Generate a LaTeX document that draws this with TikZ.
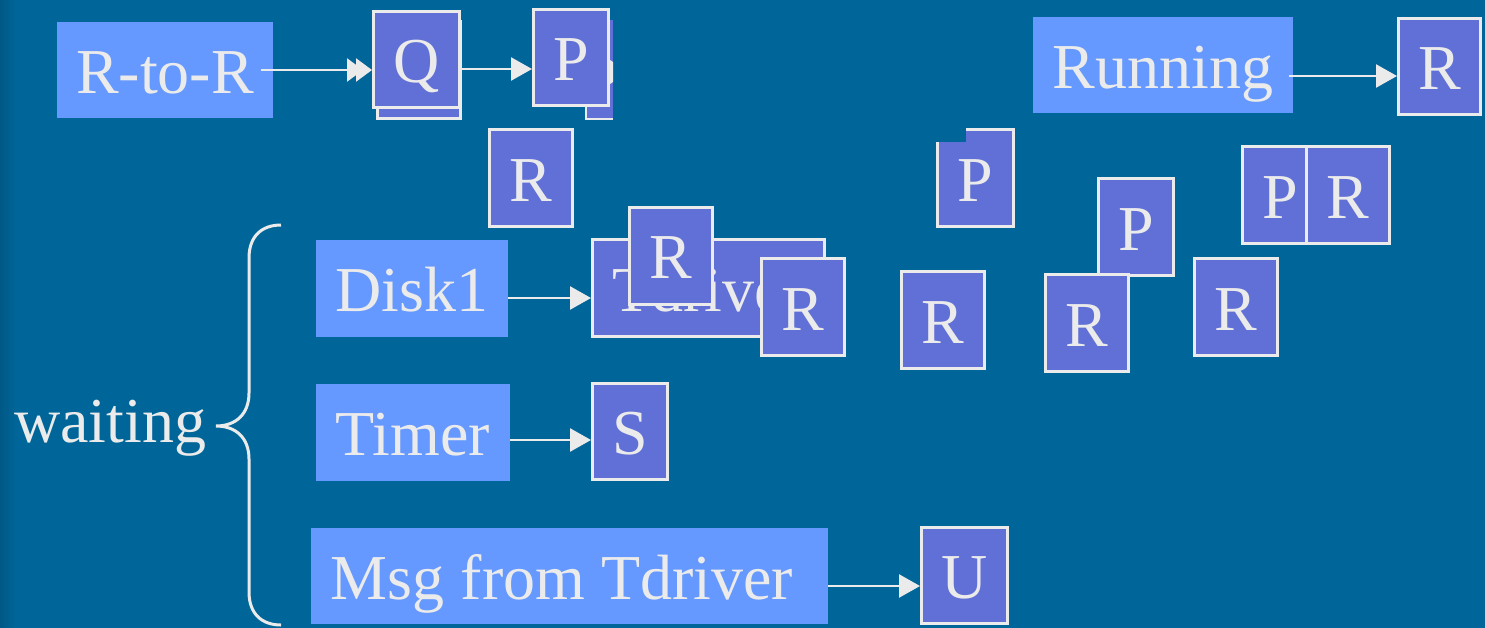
\documentclass[tikz,border=0pt]{standalone}
\usepackage{fontspec}
\setmainfont{Liberation Serif}
\usetikzlibrary{arrows.meta,calc}
\definecolor{bg}{RGB}{0,102,153}
\definecolor{bgdark}{RGB}{0,84,128}
\definecolor{lbl}{RGB}{102,153,255}
\definecolor{proc}{RGB}{97,112,214}
\definecolor{fg}{RGB}{235,235,235}
\begin{document}
\begin{tikzpicture}[x=1pt,y=-1pt,
  txt/.style={text=fg,font=\fontsize{64}{70}\selectfont,inner sep=0pt,text height=46pt,text depth=0pt},
  lab/.style={txt,fill=lbl,rectangle},
  pbox/.style={txt,fill=proc,draw=fg,line width=3pt,rectangle,minimum width=83pt,minimum height=97pt},
  arr/.style={draw=fg,line width=2.5pt,-{Triangle[length=21pt,width=23pt]}},
  arrtwo/.style={draw=fg,line width=2.5pt,-{Triangle[length=16pt,width=23pt,sep=-7pt]Triangle[length=16pt,width=23pt]}},
]
\useasboundingbox (0,0) rectangle (1485,627);
\fill[bg] (-5,-5) rectangle (1490,632);
\shade[left color=bgdark,right color=bg] (-5,-5) rectangle (16,632);

% labels
\node[lab,minimum width=216pt,minimum height=96pt] (rtor) at (165,70) {R-to-R};
\node[lab,minimum width=260pt,minimum height=96pt] (run) at (1163,65) {Running};
\node[lab,minimum width=192pt,minimum height=97pt] (disk) at (412,288.5) {Disk1};
\node[lab,minimum width=194pt,minimum height=97pt] (timer) at (413,432.5) {Timer};
\node[lab,minimum width=517pt,minimum height=96pt] (msg) at (569.5,576) {Msg from Tdriver\kern15pt\null};
\node[txt,anchor=base west] (wait) at (14,442) {waiting};

% brace
\draw[fg,line width=3pt] (281,225) .. controls (262,225) and (249,236) .. (249,258) -- (249,393)
  .. controls (249,414) and (236,426) .. (216,426)
  .. controls (236,426) and (249,438) .. (249,459) -- (249,592)
  .. controls (249,614) and (262,625) .. (281,625);

% top row
\node[pbox] (qb) at (419,70) {};
\node[pbox,minimum width=86pt,minimum height=96pt] (q) at (416.5,59.5) {Q};
\fill[proc] (585,20) rectangle (613,120);
\draw[fg,line width=2pt] (586,20) -- (586,119) -- (613,119);
\fill[fg] (610,60) -- (613,62) -- (613,82) -- (610,84) -- cycle;
\node[pbox,minimum width=75pt,minimum height=96pt] (p) at (571,57.5) {P};
\node[pbox] (r1) at (530.5,178) {R};
\node[pbox,minimum width=82pt,minimum height=96pt] (r6) at (1439.5,66.5) {R};

% scattered boxes
\node[txt,fill=proc,minimum width=79pt,minimum height=100pt] (p1) at (975.5,178) {P};
\fill[bg] (933,125) rectangle (966,142);
\draw[fg,line width=3pt] (966,129.5) -| (1013.5,226.5) -| (937.5,142);
\node[pbox,minimum width=75pt] (p2) at (1136,227) {P};
\node[pbox] (r2) at (1087,323) {R};
\node[pbox] (r3) at (943,320) {R};
\node[pbox] (r4) at (1235.5,307) {R};
\node[pbox,minimum width=75pt] (p3) at (1280,195) {P};
\node[pbox] (r5) at (1347.5,195) {R};

% waiting queues
\node[pbox,minimum width=232pt] (td) at (708.5,288) {Tdriver};
\node[pbox] (r7) at (671,255.5) {R};
\node[pbox] (r8) at (803,307) {R};
\node[pbox,minimum width=75pt,minimum height=96pt] (s) at (630,431.5) {S};
\node[pbox,minimum width=86pt,minimum height=96pt] (u) at (964.5,575.5) {U};

% arrows
\draw[arrtwo] ($(rtor.east)+(-12,0)$) -- (rtor.east -| q.west);
\draw[arr] ($(q.east)+(0,9.5)$) -- ($(p.west)+(0,11.5)$);
\draw[arr] ($(run.east)+(-4,11)$) -- ($(r6.west)+(0,9.5)$);
\draw[arr] ($(disk.east)+(0,9.5)$) -- ($(td.west)+(0,10)$);
\draw[arr] ($(timer.east)+(0,7.5)$) -- ($(s.west)+(0,8.5)$);
\draw[arr] ($(msg.east)+(0,10)$) -- ($(u.west)+(0,10.5)$);
\end{tikzpicture}
\end{document}
